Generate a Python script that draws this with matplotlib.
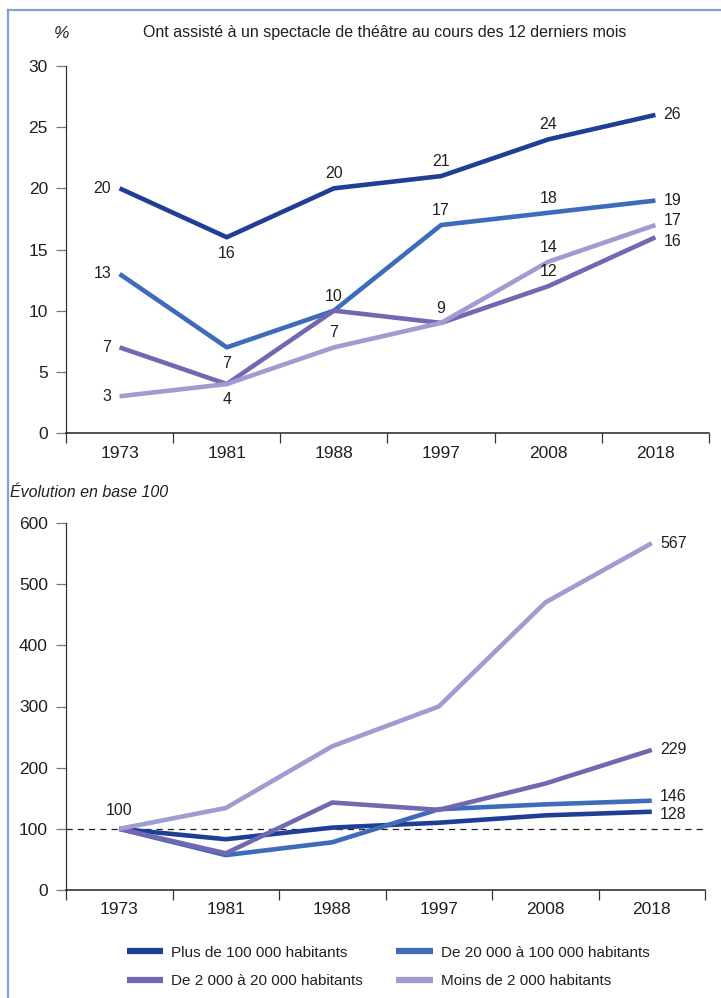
import numpy as np
import matplotlib
matplotlib.use('Agg')
import matplotlib.pyplot as plt
from matplotlib.lines import Line2D

plt.rcParams['font.family'] = ['Liberation Sans', 'DejaVu Sans']

years = ['1973', '1981', '1988', '1997', '2008', '2018']
series_names = ['Plus de 100 000 habitants', 'De 20 000 à 100 000 habitants',
                'De 2 000 à 20 000 habitants', 'Moins de 2 000 habitants']
colors = ['#213e97', '#3e6cb8', '#7168b1', '#a09bd1']

# share of people who went to the theatre (%)
pct_big = [20, 16, 20, 21, 24, 26]
pct_mid = [13, 7, 10, 17, 18, 19]
pct_small = [7, 4, 10, 9, 12, 16]
pct_rural = [3, 4, 7, 9, 14, 17]

# base 100 in 1973
idx_big = [100, 83, 102, 110, 122, 128]
idx_mid = [100, 57, 78, 132, 140, 146]
idx_small = [100, 60, 143, 131, 174, 229]
idx_rural = [100, 134, 235, 300, 470, 567]

top = [pct_big, pct_mid, pct_small, pct_rural]
bottom = [idx_big, idx_mid, idx_small, idx_rural]

W, H = 721, 998
fig = plt.figure(figsize=(W / 100, H / 100), dpi=100)

FS = 12.5
LFS = 11.5
TXT = '#231f20'


def style_axes(ax, ymax, step):
    x = np.arange(len(years))
    ax.set_xlim(-0.5, len(years) - 0.5)
    ax.set_ylim(0, ymax)
    ax.set_xticks(x)
    ax.set_xticklabels(years, fontsize=FS, color=TXT)
    ax.set_xticks(np.arange(-0.5, len(years)), minor=True)
    ax.tick_params(axis='x', which='major', length=0, pad=9)
    ax.tick_params(axis='x', which='minor', length=7, width=0.9, color='#333333')
    ax.set_yticks(np.arange(0, ymax + 1, step))
    ax.tick_params(axis='y', length=7, width=0.9, color='#777777', pad=6,
                   labelsize=FS, labelcolor=TXT)
    for s in ['top', 'right']:
        ax.spines[s].set_visible(False)
    ax.spines['left'].set_linewidth(0.9)
    ax.spines['left'].set_color('#333333')
    ax.spines['bottom'].set_linewidth(1.1)
    ax.spines['bottom'].set_color('#222222')


def lab(ax, xi, yv, text, where, dy=0):
    off = {'left': (-6, 0, 'right', 'center'),
           'right': (6, 0, 'left', 'center'),
           'above': (0, 5, 'center', 'bottom'),
           'below': (0, -6, 'center', 'top')}[where]
    ax.annotate(text, (xi, yv), xytext=(off[0], off[1] + dy), textcoords='offset points',
                ha=off[2], va=off[3], fontsize=LFS, color=TXT)


# ---- top chart ----
ax1 = fig.add_axes([66 / W, 1 - 433 / H, (709 - 66) / W, (433 - 66) / H])
x = np.arange(len(years))
for vals, c in zip(top, colors):
    ax1.plot(x, vals, color=c, lw=3.3, solid_capstyle='butt', zorder=3)
style_axes(ax1, 30, 5)

# label placement: (series, point, position)
top_labels = [
    (0, 0, 'left'), (0, 1, 'below'), (0, 2, 'above'), (0, 3, 'above'), (0, 4, 'above'), (0, 5, 'right'),
    (1, 0, 'left'), (1, 1, 'below'), (1, 2, 'above'), (1, 3, 'above'), (1, 4, 'above'), (1, 5, 'right'),
    (2, 0, 'left'), (2, 1, 'below'), (2, 3, 'above'), (2, 4, 'above'),
    (3, 0, 'left'), (3, 2, 'above'), (3, 4, 'above'),
]
for si, pi, where in top_labels:
    lab(ax1, pi, top[si][pi], str(top[si][pi]), where)
lab(ax1, 5, pct_rural[-1], str(pct_rural[-1]), 'right', dy=3)
lab(ax1, 5, pct_small[-1], str(pct_small[-1]), 'right', dy=-3)

fig.text(62 / W, 1 - 33 / H, '%', fontsize=FS, style='italic', color=TXT,
         ha='center', va='center')
fig.text(385 / W, 1 - 33 / H, 'Ont assisté à un spectacle de théâtre au cours des 12 derniers mois',
         fontsize=11.5, color=TXT, ha='center', va='center')

# ---- bottom chart ----
ax2 = fig.add_axes([66 / W, 1 - 890 / H, (705 - 66) / W, (890 - 523) / H])
ax2.axhline(100, color='#222222', lw=0.9, ls=(0, (5, 4)), zorder=2)
for vals, c in zip(bottom, colors):
    ax2.plot(x, vals, color=c, lw=3.3, solid_capstyle='butt', zorder=3)
style_axes(ax2, 600, 100)

lab(ax2, 0, bottom[0][0], str(bottom[0][0]), 'above', dy=3)
for vals in [idx_rural, idx_small]:
    lab(ax2, 5, vals[-1], str(vals[-1]), 'right')
lab(ax2, 5, idx_mid[-1], str(idx_mid[-1]), 'right', dy=3)
lab(ax2, 5, idx_big[-1], str(idx_big[-1]), 'right', dy=-2)

fig.text(10 / W, 1 - 492 / H, 'Évolution en base 100', fontsize=11.5, style='italic',
         color=TXT, ha='left', va='center')

# legend
handles = [Line2D([], [], color=colors[i], lw=4.5, solid_capstyle='butt') for i in [0, 2, 1, 3]]
names = [series_names[i] for i in [0, 2, 1, 3]]
fig.legend(handles, names, ncol=2, loc='center', bbox_to_anchor=(388 / W, 1 - 967 / H),
           frameon=False, fontsize=11, handlelength=2.4, handletextpad=0.5,
           columnspacing=2.2, labelspacing=0.95, labelcolor=TXT)

# frame around the figure
fig.add_artist(Line2D([8 / W, 8 / W], [0, 1 - 10 / H], transform=fig.transFigure,
                      color='#7fa2cf', lw=1.6))
fig.add_artist(Line2D([8 / W, 1], [1 - 10 / H, 1 - 10 / H], transform=fig.transFigure,
                      color='#7fa2cf', lw=1.6))

fig.savefig('out.png', dpi=100)
